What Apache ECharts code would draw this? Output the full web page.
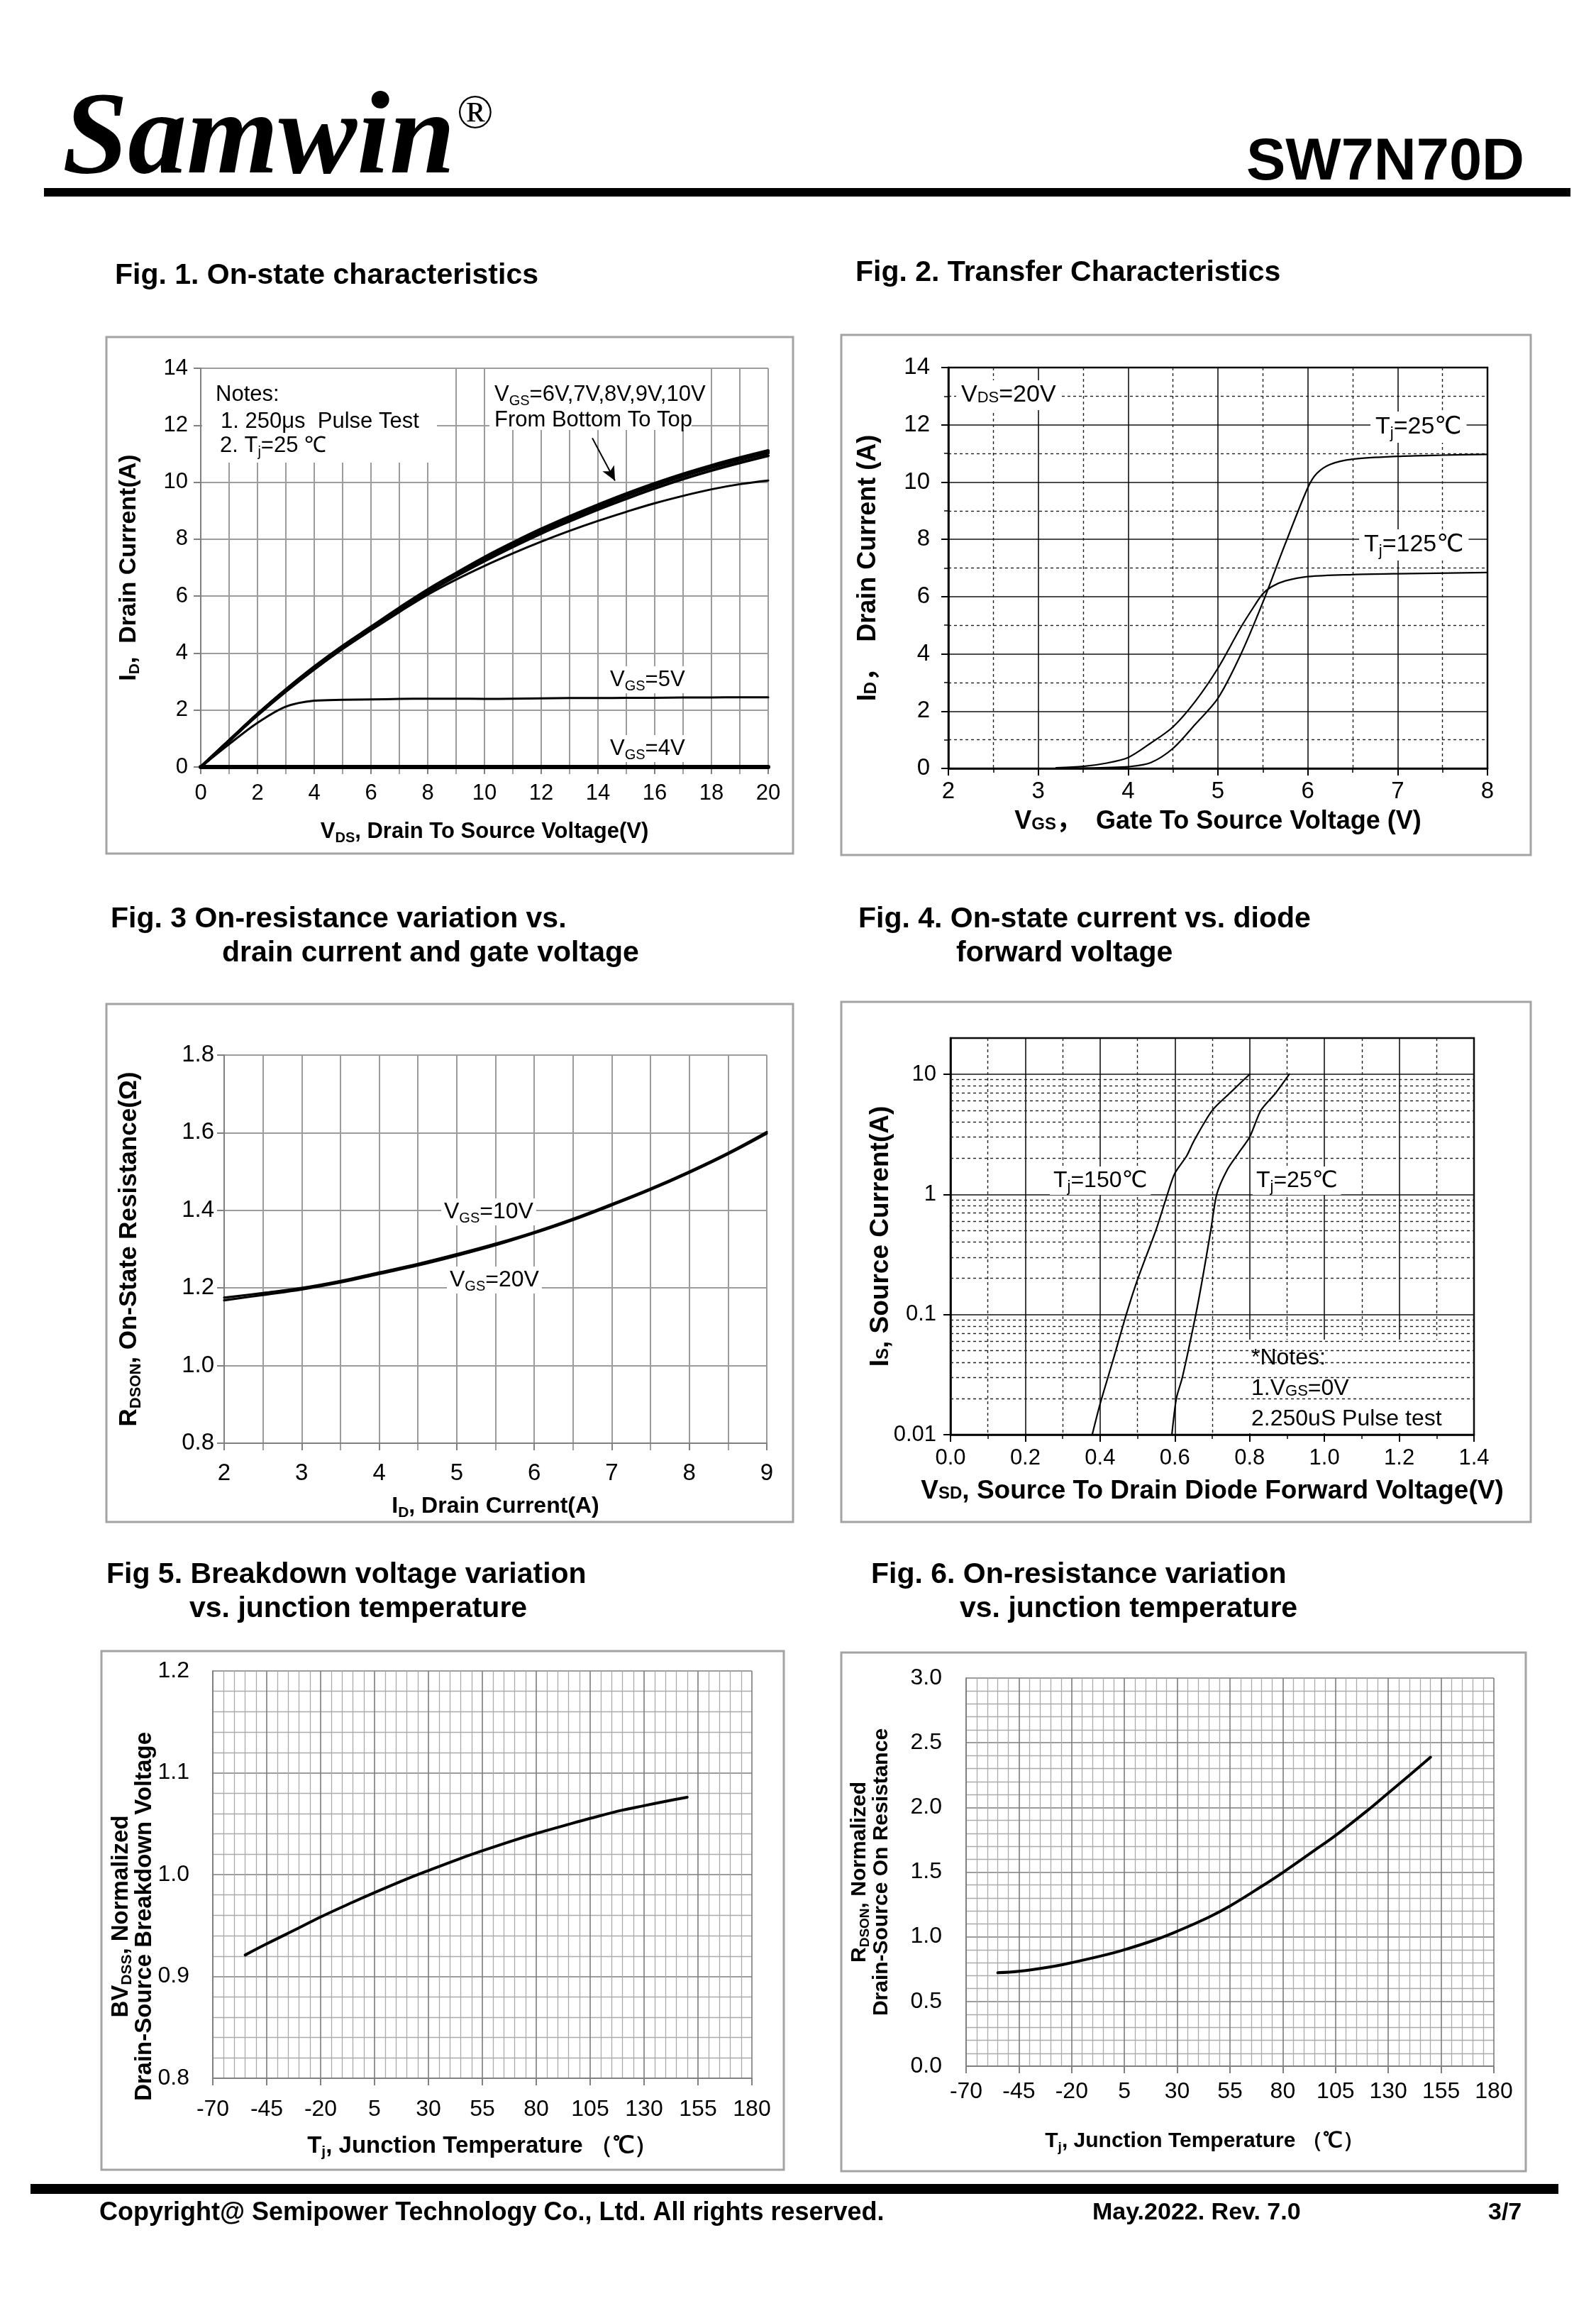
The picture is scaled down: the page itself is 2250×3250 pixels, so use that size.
<!DOCTYPE html>
<html>
<head>
<meta charset="utf-8">
<title>SW7N70D</title>
<script src="https://cdn.jsdelivr.net/npm/echarts@6.0.0/dist/echarts.min.js"></script>
<style>
html,body{margin:0;padding:0;background:#fff;}
#chart{width:2250px;height:3250px;}
</style>
</head>
<body>
<div id="chart"></div>
<script>
// ================= DATA =================
// Fig. 1  On-state characteristics (ID vs VDS)
const fig1Vds  = [0,1,2,3,4,5,6,7,8,9,10,11,12,13,14,15,16,17,18,19,20];
const fig1Id10V = [0,0.93,1.86,2.72,3.52,4.25,4.92,5.59,6.23,6.81,7.37,7.88,8.36,8.80,9.21,9.60,9.96,10.29,10.59,10.86,11.11];
const fig1Id9V  = [0,0.93,1.85,2.71,3.50,4.23,4.90,5.56,6.20,6.78,7.33,7.84,8.32,8.76,9.17,9.56,9.92,10.25,10.55,10.82,11.06];
const fig1Id8V  = [0,0.93,1.85,2.70,3.49,4.22,4.88,5.54,6.18,6.75,7.29,7.80,8.28,8.72,9.13,9.52,9.88,10.21,10.51,10.78,11.02];
const fig1Id7V  = [0,0.92,1.84,2.69,3.47,4.19,4.85,5.50,6.13,6.70,7.23,7.73,8.20,8.63,9.04,9.42,9.78,10.11,10.41,10.68,10.93];
const fig1Id6V  = [0,0.90,1.80,2.64,3.42,4.14,4.80,5.44,6.05,6.58,7.06,7.50,7.91,8.29,8.64,8.96,9.26,9.52,9.75,9.93,10.06];
const fig1Id5V  = [0,0.80,1.55,2.12,2.33,2.36,2.37,2.39,2.40,2.40,2.39,2.40,2.41,2.42,2.42,2.43,2.43,2.44,2.44,2.45,2.45];
const fig1Id4V  = [0,0,0,0,0,0,0,0,0,0,0,0,0,0,0,0,0,0,0,0,0];
const fig1Arrow = [[13.8, 11.55], [14.6, 10.05]];

// Fig. 2  Transfer characteristics (ID vs VGS), VDS = 20 V
const fig2Vgs25  = [3.2,3.5,3.75,4.0,4.25,4.5,4.75,5.0,5.25,5.5,5.75,6.0,6.1,6.25,6.5,7.0,7.5,8.0];
const fig2Id25   = [0,0.01,0.03,0.06,0.2,0.7,1.55,2.45,3.95,5.8,7.85,9.8,10.3,10.62,10.8,10.9,10.94,10.97];
const fig2Vgs125 = [3.2,3.5,3.75,4.0,4.25,4.5,4.75,5.0,5.25,5.4,5.5,5.6,5.75,6.0,6.5,7.0,8.0];
const fig2Id125  = [0.02,0.07,0.18,0.38,0.88,1.45,2.35,3.5,4.9,5.65,6.1,6.35,6.55,6.7,6.77,6.8,6.84];

// Fig. 3  RDS(on) vs ID
const fig3Id    = [2,2.5,3,3.5,4,4.5,5,5.5,6,6.5,7,7.5,8,8.5,9];
const fig3R10V  = [1.175,1.187,1.200,1.218,1.240,1.262,1.287,1.314,1.344,1.378,1.416,1.456,1.500,1.548,1.602];
const fig3R20V  = [1.168,1.182,1.196,1.214,1.236,1.258,1.283,1.310,1.341,1.375,1.413,1.453,1.497,1.545,1.598];

// Fig. 4  IS vs VSD (log)
const fig4Vsd150 = [0.379,0.40,0.433,0.47,0.50,0.55,0.58,0.60,0.632,0.65,0.70,0.75,0.80];
const fig4Is150  = [0.01,0.018,0.04,0.10,0.195,0.51,1.0,1.5,2.1,2.75,5.0,7.1,10];
const fig4Vsd25  = [0.592,0.604,0.62,0.656,0.674,0.696,0.712,0.74,0.77,0.80,0.83,0.87,0.906];
const fig4Is25   = [0.01,0.02,0.03,0.10,0.20,0.50,1.0,1.6,2.2,3.0,5.0,7.0,10];
const fig4MinorGridY = [0.02,0.03,0.04,0.05,0.06,0.07,0.08,0.09,0.2,0.3,0.4,0.5,0.6,0.7,0.8,0.9,2,3,4,5,6,7,8,9];

// Fig. 5  Normalized BVDSS vs Tj
const fig5Tj = [-55,-45,-30,-20,-5,5,20,30,45,55,70,80,95,105,120,130,140,150];
const fig5Bv = [0.921,0.932,0.9477,0.9584,0.973,0.9823,0.9957,1.004,1.016,1.0234,1.0339,1.0404,1.0494,1.0552,1.0633,1.0677,1.072,1.076];

// Fig. 6  Normalized RDS(on) vs Tj
const fig6Tj = [-55,-45,-30,-20,-5,5,20,30,45,55,70,80,95,105,120,130,140,150];
const fig6R  = [0.722,0.733,0.768,0.80,0.856,0.90,0.979,1.043,1.152,1.238,1.39,1.497,1.668,1.783,1.975,2.112,2.249,2.388];

// ================= STYLE =================
const NARROW = '"Liberation Sans Narrow","Arial Narrow","Liberation Sans",Arial,sans-serif';
const SANS = '"Liberation Sans",Arial,"DejaVu Sans","Noto Sans CJK SC",sans-serif';
const SERIF = '"Liberation Serif","Times New Roman",serif';

function pairs(xs, ys){ return xs.map((x,i)=>[x, ys[i]]); }
function curve(idx, xs, ys, width, extra){
  return Object.assign({
    type:'line', xAxisIndex:idx, yAxisIndex:idx, data:pairs(xs, ys),
    symbol:'none', showSymbol:false, smooth:0.4,
    lineStyle:{color:'#000', width:width, cap:'round', join:'round'}, z:3, silent:true, animation:false
  }, extra || {});
}
function subRich(font, size, pad, bold){
  return {fontFamily:font, fontSize:size, padding:[pad,0,0,0], color:'#000', fill:'#000', fontWeight: bold ? 'bold':'normal'};
}
function nameStyle(font, size, subSize, subPad, extra){
  return Object.assign({color:'#000', fontFamily:font, fontSize:size, fontWeight:'bold',
    rich:{s:subRich(font, subSize, subPad, true)}}, extra||{});
}
function grayAxis(o){
  const c = o.axisColor || '#808080';
  return {
    gridIndex:o.g, type:'value', min:o.min, max:o.max, interval:o.interval,
    axisLine:{show:true, onZero:false, lineStyle:{color:c, width:2}},
    axisTick:{show:true, length:o.tick||10, lineStyle:{color:c, width:2}},
    minorTick:{show:!!o.minor, splitNumber:o.minor||5, length:o.minorTick||o.tick||10, lineStyle:{color:c, width:1.5}},
    splitLine:{show:true, lineStyle:{color:o.major||'#9c9c9c', width:o.majorW||2}},
    minorSplitLine:{show:!!o.minor, lineStyle:{color:o.minorC||'#9c9c9c', width:o.minorW||2}},
    axisLabel:{color:'#000', fontFamily:o.font||NARROW, fontSize:o.fs||30, margin:o.margin, formatter:o.fmt},
    name:o.name, nameLocation:'middle', nameGap:o.gap, nameRotate:o.rot, nameMoveOverlap:false,
    nameTextStyle:o.nts
  };
}
function blackAxis(o){
  return {
    gridIndex:o.g, type:o.type||'value', min:o.min, max:o.max, interval:o.interval, logBase:o.logBase,
    axisLine:{show:true, onZero:false, lineStyle:{color:'#000', width:2.5}},
    axisTick:{show:true, length:10, lineStyle:{color:'#000', width:2}},
    minorTick:{show:!!o.minor, splitNumber:o.minor||2, length:6, lineStyle:{color:'#000', width:1.5}},
    splitLine:{show:true, lineStyle:{color:'#111', width:1.6}},
    minorSplitLine:{show:!!o.minor, lineStyle:{color:'#222', width:1.4, type:[4,4]}},
    axisLabel:{color:'#000', fontFamily:SANS, fontSize:o.fs||32, margin:o.margin, formatter:o.fmt, showMaxLabel:o.showMax},
    name:o.name, nameLocation:'middle', nameGap:o.gap, nameRotate:o.rot, nameMoveOverlap:false,
    nameTextStyle:o.nts
  };
}
const f1 = v => v.toFixed(1);
const bigName = (size, sub) => ({color:'#000', fontFamily:SANS, fontSize:size, fontWeight:'bold', rich:{c:subRich(SANS,sub,8,true)}});

// ================= AXES =================
const xAxes = [
  grayAxis({g:0, min:0, max:20, interval:2, minor:2, margin:22, fs:31,
    name:'V{s|DS}, Drain To Source Voltage(V)', gap:72, nts:nameStyle(NARROW,31,20,18)}),
  blackAxis({g:1, min:2, max:8, interval:1, minor:2, margin:16, fs:33,
    name:'V{c|GS}，  Gate To Source Voltage (V)', gap:57, nts:bigName(36,24)}),
  grayAxis({g:2, min:2, max:9, interval:1, minor:2, margin:26, fs:33,
    name:'I{s|D}, Drain Current(A)', gap:70, nts:nameStyle(NARROW,32,21,18)}),
  blackAxis({g:3, min:0, max:1.4, interval:0.2, minor:2, margin:18, fs:31, fmt:f1,
    name:'V{c|SD}, Source To Drain Diode Forward Voltage(V)', gap:61, nts:bigName(37,24)}),
  grayAxis({g:4, min:-70, max:180, interval:25, minor:5, margin:28, fs:32, tick:10, minorTick:0.001,
    major:'#7c7c7c', majorW:1.6, minorC:'#ababab', minorW:1.3,
    name:'T{s|j}, Junction Temperature （℃）', gap:76, nts:nameStyle(NARROW,33,21,18)}),
  grayAxis({g:5, min:-70, max:180, interval:25, minor:5, margin:20, fs:32, tick:10, minorTick:0.001,
    major:'#7c7c7c', majorW:1.6, minorC:'#ababab', minorW:1.3,
    name:'T{s|j}, Junction Temperature （℃）', gap:88,
    nts:nameStyle(NARROW,30,19,17,{padding:[0,72,0,0]})})
];
const yAxes = [
  grayAxis({g:0, min:0, max:14, interval:2, margin:18, fs:31,
    name:'I{s|D},  Drain Current(A)', gap:82, rot:90, nts:nameStyle(SANS,34,21,18)}),
  blackAxis({g:1, min:0, max:14, interval:2, minor:2, margin:26, fs:33,
    name:'I{c|D}，  Drain Current (A)', gap:95, rot:90, nts:bigName(36,24)}),
  grayAxis({g:2, min:0.8, max:1.8, interval:0.2, margin:14, fs:33, fmt:f1,
    name:'R{s|DSON}, On-State Resistance(Ω)', gap:113, rot:90, nts:nameStyle(SANS,35,22,19)}),
  blackAxis({g:3, type:'log', logBase:10, min:0.01, max:20, margin:20, fs:31, showMax:false,
    fmt:v => v > 10.5 ? '' : (v >= 1 ? String(Math.round(v)) : String(+v.toPrecision(2))),
    name:'I{c|S}, Source Current(A)', gap:80, rot:90, nts:bigName(37,24)}),
  grayAxis({g:4, min:0.8, max:1.2, interval:0.1, minor:5, margin:33, fs:32, fmt:f1, tick:0.001,
    major:'#7c7c7c', majorW:1.6, minorC:'#ababab', minorW:1.3,
    name:'BV{s|DSS}, Normalized\nDrain-Source Breakdown Voltage', gap:80, rot:90,
    nts:nameStyle(SANS,33,21,17,{lineHeight:33, padding:[0,118,0,0]})}),
  grayAxis({g:5, min:0, max:3, interval:0.5, minor:5, margin:34, fs:32, fmt:f1, tick:0.001,
    major:'#7c7c7c', majorW:1.6, minorC:'#ababab', minorW:1.3,
    name:'R{s|DSON}, Normalized\nDrain-Source On Resistance', gap:104, rot:90,
    nts:nameStyle(SANS,30,19,16,{lineHeight:31})})
];

// ================= SERIES =================
const series = [
  curve(0, fig1Vds, fig1Id4V, 6, {name:'VGS=4V', smooth:false}),
  curve(0, fig1Vds, fig1Id5V, 3, {name:'VGS=5V', smooth:0.3}),
  curve(0, fig1Vds, fig1Id6V, 3, {name:'VGS=6V'}),
  curve(0, fig1Vds, fig1Id7V, 4, {name:'VGS=7V'}),
  curve(0, fig1Vds, fig1Id8V, 4, {name:'VGS=8V'}),
  curve(0, fig1Vds, fig1Id9V, 4, {name:'VGS=9V'}),
  curve(0, fig1Vds, fig1Id10V, 4, {name:'VGS=10V',
    markLine:{silent:true, animation:false, symbol:['none','arrow'], symbolSize:[14,20],
      label:{show:false}, lineStyle:{color:'#000', width:2, type:'solid'},
      data:[[{coord:fig1Arrow[0]},{coord:fig1Arrow[1]}]]}}),
  curve(1, fig2Vgs25, fig2Id25, 2.2, {name:'Tj=25', smooth:0.3}),
  curve(1, fig2Vgs125, fig2Id125, 2.2, {name:'Tj=125', smooth:0.3}),
  curve(2, fig3Id, fig3R10V, 3.2, {name:'VGS=10V'}),
  curve(2, fig3Id, fig3R20V, 3.2, {name:'VGS=20V'}),
  curve(3, fig4Vsd150, fig4Is150, 2.2, {name:'Tj=150', smooth:0.25,
    markLine:{silent:true, animation:false, symbol:['none','none'], label:{show:false},
      lineStyle:{color:'#222', width:1.4, type:[4,4]},
      data:fig4MinorGridY.map(v=>({yAxis:v}))}}),
  curve(3, fig4Vsd25, fig4Is25, 2.2, {name:'Tj=25', smooth:0.25}),
  curve(4, fig5Tj, fig5Bv, 4, {name:'BVDSS'}),
  curve(5, fig6Tj, fig6R, 4, {name:'RDSON'})
];

// ================= GRAPHIC (page furniture & annotations) =================
function T(x, y, text, o){
  o = o || {};
  const st = {text:text, x:0, y:0, fill:o.fill||'#000',
    fontFamily:o.ff||SANS, fontSize:o.fs||30, fontWeight:o.fw||'normal', fontStyle:o.fst||'normal',
    align:o.align||'left', textAlign:o.align||'left', verticalAlign:'middle', textVerticalAlign:'middle'};
  if (o.rich) st.rich = o.rich;
  if (o.bg){ st.backgroundColor = '#fff'; st.padding = o.pad || [2,5]; }
  return {type:'text', x:x, y:y, z:o.z||20, silent:true, style:st};
}
function R(x, y, w, h, style, z){
  return {type:'rect', z:z===undefined?1:z, silent:true, shape:{x:x,y:y,width:w,height:h}, style:style};
}
const lowN = {s:{fontFamily:NARROW, fontSize:20, padding:[18,0,0,0], fill:'#000'}};
const lowS = {s:{fontFamily:SANS, fontSize:22, padding:[18,0,0,0], fill:'#000'},
              c:{fontFamily:SANS, fontSize:22, padding:[8,0,0,0], fill:'#000'}};
const boxStyle = {fill:'none', stroke:'#a3a3a3', lineWidth:3};

const graphics = [
  // header
  T(88, 200, 'Samwin', {ff:SERIF, fs:166, fw:'bold', fst:'italic'}),
  T(644, 162, '®', {ff:SERIF, fs:68}),
  T(2149, 230, 'SW7N70D', {ff:SANS, fs:83, fw:'bold', align:'right'}),
  R(62, 265, 2152, 12, {fill:'#000'}),
  // figure titles
  T(162, 389, 'Fig. 1. On-state characteristics', {fs:41, fw:'bold'}),
  T(1206, 385, 'Fig. 2. Transfer Characteristics', {fs:41, fw:'bold'}),
  T(156, 1296, 'Fig. 3 On-resistance variation vs.', {fs:41, fw:'bold'}),
  T(313, 1344, 'drain current and gate voltage', {fs:41, fw:'bold'}),
  T(1210, 1296, 'Fig. 4. On-state current vs. diode', {fs:41, fw:'bold'}),
  T(1348, 1344, 'forward voltage', {fs:41, fw:'bold'}),
  T(150, 2220, 'Fig 5. Breakdown voltage variation', {fs:41, fw:'bold'}),
  T(267, 2268, 'vs. junction temperature', {fs:41, fw:'bold'}),
  T(1228, 2220, 'Fig. 6. On-resistance variation', {fs:41, fw:'bold'}),
  T(1353, 2268, 'vs. junction temperature', {fs:41, fw:'bold'}),
  // panel frames
  R(150, 475, 968, 728, boxStyle, 0),
  R(1186, 472, 972, 733, boxStyle, 0),
  R(150, 1415, 968, 730, boxStyle, 0),
  R(1186, 1412, 972, 733, boxStyle, 0),
  R(143, 2327, 962, 731, boxStyle, 0),
  R(1186, 2329, 965, 731, boxStyle, 0),
  // Fig 1 annotations
  R(285, 520, 331, 132, {fill:'#fff'}),
  R(690, 520, 285, 86, {fill:'#fff'}),
  T(304, 556, 'Notes:', {ff:NARROW, fs:31}),
  T(311, 594, '1. 250μs  Pulse Test', {ff:NARROW, fs:31}),
  T(310, 628, '2. T{s|j}=25 ℃', {ff:NARROW, fs:31, rich:lowN}),
  T(697, 556, 'V{s|GS}=6V,7V,8V,9V,10V', {ff:NARROW, fs:31, rich:lowN}),
  T(697, 592, 'From Bottom To Top', {ff:NARROW, fs:31}),
  T(856, 958, 'V{s|GS}=5V', {ff:NARROW, fs:31, rich:lowN, bg:true, pad:[0,4]}),
  T(856, 1055, 'V{s|GS}=4V', {ff:NARROW, fs:31, rich:lowN, bg:true, pad:[0,4]}),
  // Fig 2 annotations
  T(1348, 557, 'V{c|DS}=20V', {fs:34, rich:lowS, bg:true, pad:[4,7]}),
  T(1932, 602, 'T{s|j}=25℃', {fs:34, rich:lowS, bg:true, pad:[2,7]}),
  T(1916, 768, 'T{s|j}=125℃', {fs:34, rich:lowS, bg:true, pad:[2,7]}),
  // Fig 3 annotations
  T(622, 1708, 'V{s|GS}=10V', {ff:NARROW, fs:32, rich:lowN, bg:true, pad:[0,4]}),
  T(630, 1804, 'V{s|GS}=20V', {ff:NARROW, fs:32, rich:lowN, bg:true, pad:[0,4]}),
  // Fig 4 annotations
  T(1480, 1664, 'T{s|j}=150℃', {fs:32, rich:lowS, bg:true, pad:[0,5]}),
  T(1766, 1664, 'T{s|j}=25℃', {fs:32, rich:lowS, bg:true, pad:[0,5]}),
  R(1761, 1888, 315, 132, {fill:'#fff'}),
  T(1764, 1914, '*Notes:', {fs:32}),
  T(1764, 1957, '1.V{c|GS}=0V', {fs:32, rich:lowS}),
  T(1764, 2000, '2.250uS Pulse test', {fs:32}),
  // footer
  R(43, 3078, 2154, 14, {fill:'#000'}),
  T(140, 3119, 'Copyright@ Semipower Technology Co., Ltd. All rights reserved.', {fs:36, fw:'bold'}),
  T(1540, 3119, 'May.2022. Rev. 7.0', {fs:34, fw:'bold'}),
  T(2098, 3119, '3/7', {fs:34, fw:'bold'})
];

// ================= OPTION =================
const grids = [
  {left:283, top:519, width:800, height:562},
  {left:1337, top:518, width:760, height:565, show:true, borderColor:'#000', borderWidth:2.5},
  {left:316, top:1487, width:765, height:547},
  {left:1340, top:1463, width:738, height:559, show:true, borderColor:'#000', borderWidth:2.5},
  {left:300, top:2355, width:760, height:574},
  {left:1362, top:2365, width:744, height:547}
].map(g => Object.assign({containLabel:false, outerBoundsMode:'none'}, g));

const option = {
  animation:false,
  backgroundColor:'#fff',
  grid:grids,
  xAxis:xAxes,
  yAxis:yAxes,
  series:series,
  graphic:{elements:graphics}
};

const chart = echarts.init(document.getElementById('chart'), null, {renderer:'canvas', width:2250, height:3250});
chart.setOption(option);
</script>
</body>
</html>
